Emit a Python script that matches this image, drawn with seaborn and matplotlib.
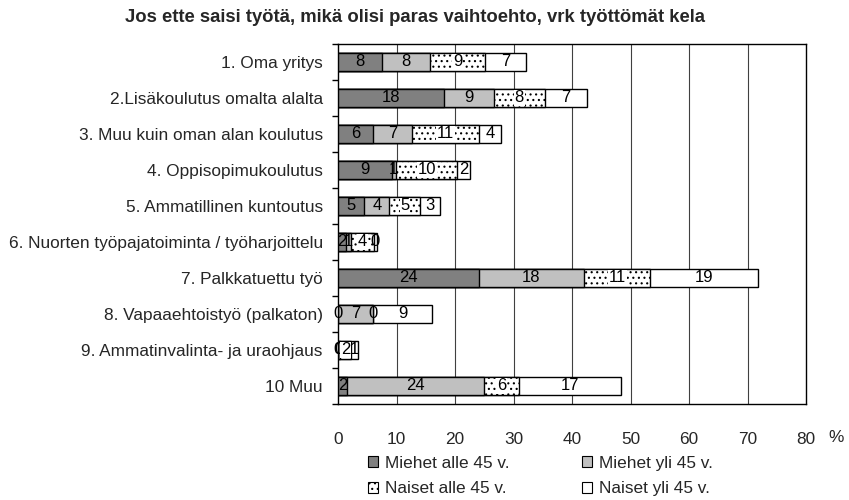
import matplotlib
matplotlib.use("Agg")
import matplotlib.pyplot as plt
import seaborn as sns
import numpy as np
from matplotlib.patches import Patch

categories = [
    "1. Oma yritys",
    "2.Lisäkoulutus omalta alalta",
    "3. Muu kuin oman alan koulutus",
    "4. Oppisopimukoulutus",
    "5. Ammatillinen kuntoutus",
    "6. Nuorten työpajatoiminta / työharjoittelu",
    "7. Palkkatuettu työ",
    "8. Vapaaehtoistyö (palkaton)",
    "9. Ammatinvalinta- ja uraohjaus",
    "10 Muu",
]
series_names = ["Miehet alle 45 v.", "Miehet yli 45 v.", "Naiset alle 45 v.", "Naiset yli 45 v."]

# bar lengths (%)
miehet_alle = [7.5, 18.1, 6.0, 9.2, 4.5, 1.4, 24.1, 0.0, 0.0, 1.5]
miehet_yli = [8.2, 8.5, 6.6, 0.7, 4.3, 0.8, 17.9, 6.0, 0.3, 23.4]
naiset_alle = [9.5, 8.7, 11.5, 10.5, 5.3, 4.0, 11.4, 0.0, 2.0, 6.1]
naiset_yli = [7.0, 7.2, 3.7, 2.1, 3.4, 0.4, 18.4, 10.1, 1.1, 17.3]

# data labels as printed in the chart
lab_miehet_alle = ["8", "18", "6", "9", "5", "2", "24", "0", "0", "2"]
lab_miehet_yli = ["8", "9", "7", "1", "4", "1", "18", "7", "0", "24"]
lab_naiset_alle = ["9", "8", "11", "10", "5", "4", "11", "0", "2", "6"]
lab_naiset_yli = ["7", "7", "4", "2", "3", "0", "19", "9", "1", "17"]

sns.set_theme(style="white")
plt.rcParams["font.family"] = ["Liberation Sans", "DejaVu Sans"]
plt.rcParams["hatch.linewidth"] = 0.8

FS = 12.4

fig = plt.figure(figsize=(8.49, 5.0), dpi=100)
ax = fig.add_axes([338 / 849, 1 - 404 / 500, (806 - 338) / 849, (404 - 44) / 500])

series = [miehet_alle, miehet_yli, naiset_alle, naiset_yli]
labels = [lab_miehet_alle, lab_miehet_yli, lab_naiset_alle, lab_naiset_yli]
colors = ["#808080", "#c0c0c0", "white", "white"]
hatches = [None, None, "...", None]
cums = np.cumsum(np.array(series), axis=0)

# draw stacked bars: largest cumulative first
for i in reversed(range(4)):
    kw = {}
    if hatches[i]:
        kw["hatch"] = hatches[i]
    sns.barplot(x=list(cums[i]), y=categories, orient="h", color=colors[i],
                saturation=1, edgecolor="black", linewidth=1.0, width=0.48,
                ax=ax, zorder=3, **kw)

# labels
for i in range(4):
    starts = cums[i] - np.array(series[i])
    for j in range(len(categories)):
        xc = starts[j] + series[i][j] / 2
        kw = {}
        if hatches[i] and series[i][j] > 1.5:
            kw["bbox"] = dict(boxstyle="square,pad=0.05", facecolor="white", edgecolor="none")
        ax.text(xc, j, labels[i][j], ha="center", va="center", fontsize=12,
                color="black", zorder=5, **kw)

ax.set_xlim(0, 80)
ax.set_ylim(len(categories) - 0.5, -0.5)
ax.set_xticks(range(0, 81, 10))
ax.set_xticklabels([str(v) for v in range(0, 81, 10)], fontsize=FS)
ax.tick_params(axis="x", length=0, pad=20)
ax.tick_params(axis="y", length=0, pad=11, labelsize=FS)
ax.set_yticks(np.arange(-0.5, len(categories), 1), minor=True)
ax.tick_params(axis="y", which="minor", length=4, width=1, color="black", direction="out", left=True)
ax.set_xlabel("")
ax.set_ylabel("")
for x in range(10, 80, 10):
    ax.axvline(x, color="#404040", linewidth=0.8, zorder=1)
for s in ax.spines.values():
    s.set_visible(True)
    s.set_color("black")
    s.set_linewidth(1.0)

fig.text(836 / 849, 1 - 438 / 500, "%", ha="center", va="center", fontsize=FS)

fig.text(415 / 849, 1 - 17 / 500,
         "Jos ette saisi työtä, mikä olisi paras vaihtoehto, vrk työttömät kela",
         ha="center", va="center", fontsize=13.3, fontweight="bold")

handles = [Patch(facecolor=colors[k], edgecolor="black", hatch=hatches[k], linewidth=0.8)
           for k in range(4)]
order = [0, 2, 1, 3]
leg = fig.legend([handles[k] for k in order], [series_names[k] for k in order],
                 loc="upper left", bbox_to_anchor=(368 / 849, 1 - 456 / 500), ncol=2,
                 frameon=False, fontsize=FS, handlelength=0.6, handleheight=0.6,
                 handletextpad=0.4, columnspacing=4.2, labelspacing=0.6,
                 borderpad=0, borderaxespad=0)

fig.savefig("out.png", dpi=100)
